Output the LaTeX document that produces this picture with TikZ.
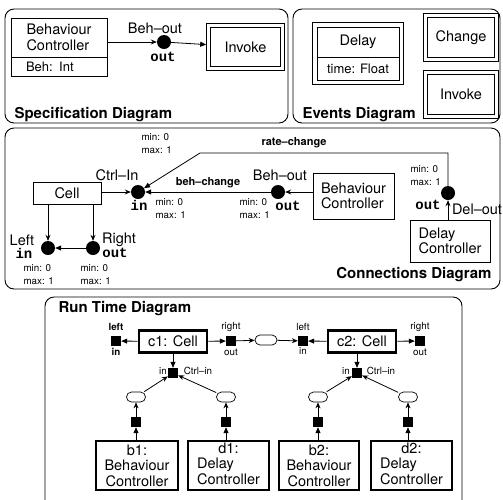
\documentclass[tikz,border=0pt]{standalone}
\usepackage{fontspec}
\setmainfont{TeX Gyre Heros}
\setmonofont{Liberation Mono}
\usetikzlibrary{arrows.meta,fit}
\newcommand\lbl{\fontsize{14.5}{15.5}\selectfont}
\newcommand\attr{\fontsize{13}{15}\selectfont}
\newcommand\sml{\fontsize{9.8}{13}\selectfont}
\newcommand\bsml{\fontsize{11}{13}\selectfont\bfseries}
\newcommand\ttl{\fontsize{15}{17}\selectfont\bfseries}
\newcommand\pin[1]{{\fontsize{14}{15}\selectfont\ttfamily\bfseries #1}}

\begin{document}
\begin{tikzpicture}[x=1pt,y=-1pt,
	panel/.style={draw,rounded corners=9pt,line width=0.9pt},
	box/.style={draw,line width=0.8pt,inner sep=0pt,font=\lbl},
	dbox/.style={draw,double,double distance=3pt,line width=0.8pt,inner sep=0pt,outer sep=2.3pt,font=\lbl},
	rbox/.style={draw,line width=2.6pt,inner sep=0pt,outer sep=1.3pt,font=\lbl},
	dot/.style={circle,fill,inner sep=0pt,minimum size=14pt},
	port/.style={fill,inner sep=0pt,minimum size=10pt},
	wire/.style={draw,rounded corners=5pt,inner sep=0pt,minimum width=19pt,minimum height=10pt,line width=0.7pt},
	fa/.style={-{Triangle[length=6pt,width=5pt]},line width=0.8pt},
	oa/.style={-{Stealth[length=6pt,width=5pt,inset=2pt]},line width=0.8pt}]

	\useasboundingbox (0,0) rectangle (503,499);
	\clip (0,0) rectangle (503,499);

	\draw[panel] (5,9) rectangle (288,123);
	\draw[panel] (293,9) rectangle (500,123);
	\draw[panel] (5,128) rectangle (500,289);
	\draw[panel] (45,297) rectangle (462,520);

	% specification
	\node[box,minimum width=96pt,minimum height=39pt,align=left] (sbeh) at (59,37.5) {Behaviour\\Controller};
	\node[box,font=\attr,text width=66pt,inner xsep=15pt,minimum height=19pt,align=left] (sbehattr) at (59,66.5) {Beh: Int};
	\node[dot] (sout) at (164,42) {};
	\node[dbox,minimum width=74pt,minimum height=43pt] (sinv) at (245.5,47) {Invoke};
	\node[font=\lbl] (soutname) at (155,28) {Beh--out};
	\node (soutpin) at (163,57) {\pin{out}};
	\node[anchor=base west,font=\ttl] (stitle) at (11,118) {Specification Diagram};
	\draw[oa] (sbeh.east |- sout) -- (sout);
	\draw[fa] (sout) -- (sinv);

	% events
	\node[box,minimum width=82pt,minimum height=30pt] (edly) at (358,42) {Delay};
	\node[box,font=\attr,minimum width=82pt,minimum height=23pt] (edlyattr) at (358,68.5) {time: Float};
	\node[draw,line width=0.8pt,inner sep=4pt,fit=(edly)(edlyattr)] (edlyframe) {};
	\node[dbox,minimum width=71pt,minimum height=44pt] (echg) at (461,37.5) {Change};
	\node[dbox,minimum width=71pt,minimum height=44pt] (einv) at (461,94.5) {Invoke};
	\node[anchor=base west,font=\ttl] (etitle) at (299,118) {Events Diagram};

	% connections
	\node[box,minimum width=68pt,minimum height=22pt] (cell) at (67,193) {Cell};
	\node[dot] (ctrlin) at (138,192) {};
	\node[dot] (behout) at (278,192) {};
	\node[box,minimum width=81pt,minimum height=46pt,align=left] (cbeh) at (353.5,196) {Behaviour\\Controller};
	\node[dot] (delout) at (448,193) {};
	\node[box,minimum width=80pt,minimum height=42pt,align=left] (cdel) at (450,241) {Delay\\Controller};
	\node[dot] (left) at (48,248) {};
	\node[dot] (right) at (93,248) {};
	\coordinate (rc) at (200,153);

	\node[font=\lbl] (ctrlinname) at (117,175) {Ctrl--In};
	\node (ctrlinpin) at (139,205) {\pin{in}};
	\node[font=\sml,align=left,anchor=west] (ctrlinmm) at (152,209) {min: 0\\max: 1};
	\node[font=\sml,align=left,anchor=west] (ratemm) at (138,143.5) {min: 0\\max: 1};
	\node[font=\lbl] (behoutname) at (280,175) {Beh--out};
	\node (behoutpin) at (288,206) {\pin{out}};
	\node[font=\sml,align=left,anchor=west] (behoutmm) at (236,209) {min: 0\\max: 1};
	\node[font=\sml,align=left,anchor=west] (deloutmm) at (407,176) {min: 0\\max: 1};
	\node (deloutpin) at (428,205) {\pin{out}};
	\node[font=\lbl] (deloutname) at (477,209) {Del--out};
	\node[font=\lbl] (leftname) at (22,240) {Left};
	\node (leftpin) at (24,253) {\pin{in}};
	\node[font=\lbl] (rightname) at (119,240) {Right};
	\node (rightpin) at (115,253) {\pin{out}};
	\node[font=\sml,align=left,anchor=west] (leftmm) at (20,275) {min: 0\\max: 1};
	\node[font=\sml,align=left,anchor=west] (rightmm) at (77,275) {min: 0\\max: 1};
	\node[font=\bsml] (ratechg) at (294,143) {rate--change};
	\node[anchor=base east,font=\ttl] (ctitle) at (495,278) {Connections Diagram};

	\draw[oa] (cell.east |- ctrlin) -- (ctrlin);
	\draw[fa] (behout) -- node[above,font=\bsml] (behchg) {beh--change} (ctrlin);
	\draw[oa] (cbeh.west |- behout) -- (behout);
	\draw[oa] (delout |- cdel.north) -- (delout);
	\draw[fa] (delout) |- (rc) -- (ctrlin);
	\draw[oa] (left |- cell.south) -- (left);
	\draw[oa] (right |- cell.south) -- (right);
	\draw[fa] (right) -- (left);

	% run time
	\node[anchor=base west,font=\ttl] (rtitle) at (55,312) {Run Time Diagram};
	\node[rbox,minimum width=68pt,minimum height=22pt] (c1) at (173,341.5) {c1: Cell};
	\node[rbox,minimum width=68pt,minimum height=22pt] (c2) at (362,341.5) {c2: Cell};
	\node[port] (c1l) at (116,341) {};
	\node[port] (c1r) at (231,341) {};
	\node[port] (c2l) at (303,341) {};
	\node[port] (c2r) at (420,341) {};
	\node[wire,minimum width=22pt] (mid) at (266,340) {};
	\node[port] (c1c) at (173,373) {};
	\node[port] (c2c) at (357,373) {};
	\node[font=\sml\bfseries] (c1lname) at (116,327) {left};
	\node[font=\sml\bfseries] (c1lpin) at (116,352) {in};
	\node[font=\sml] (c1rname) at (231,327) {right};
	\node[font=\sml] (c1rpin) at (231,352) {out};
	\node[font=\sml] (c2lname) at (303,327) {left};
	\node[font=\sml] (c2lpin) at (303,351) {in};
	\node[font=\sml] (c2rname) at (420,327) {right};
	\node[font=\sml] (c2rpin) at (420,352) {out};
	\node[font=\sml] (c1cpin) at (163,371) {in};
	\node[font=\sml] (c1cname) at (198,371) {Ctrl--in};
	\node[font=\sml] (c2cpin) at (346,371) {in};
	\node[font=\sml] (c2cname) at (381,371) {Ctrl--in};

	\node[wire] (b1w) at (136,397) {};
	\node[wire] (d1w) at (226,397) {};
	\node[wire] (b2w) at (318,397) {};
	\node[wire] (d2w) at (408,397) {};
	\node[port] (b1p) at (136,422) {};
	\node[port] (d1p) at (226,422) {};
	\node[port] (b2p) at (318,422) {};
	\node[port] (d2p) at (408,422) {};
	\node[rbox,minimum width=82pt,minimum height=49pt,align=center] (b1) at (137,465.5) {b1:\\Behaviour\\Controller};
	\node[rbox,minimum width=81pt,minimum height=49pt] (d1) at (228.5,465.5) {\begin{tabular}{@{}l@{}}\multicolumn{1}{@{}c@{}}{d1:}\\Delay\\Controller\end{tabular}};
	\node[rbox,minimum width=80pt,minimum height=49pt,align=center] (b2) at (319,465.5) {b2:\\Behaviour\\Controller};
	\node[rbox,minimum width=81pt,minimum height=49pt] (d2) at (411.5,465.5) {\begin{tabular}{@{}l@{}}\multicolumn{1}{@{}c@{}}{d2:}\\Delay\\Controller\end{tabular}};

	\draw[fa] (c1) -- (c1l);
	\draw[fa] (c1) -- (c1r);
	\draw[oa] (c1r) -- (mid);
	\draw[oa] (mid) -- (c2l);
	\draw[fa] (c2) -- (c2l);
	\draw[fa] (c2) -- (c2r);
	\draw[fa] (c1c |- c1.south) -- (c1c);
	\draw[fa] (c2c |- c2.south) -- (c2c);
	\draw[oa] (b1w) -- (c1c);
	\draw[oa] (d1w) -- (c1c);
	\draw[oa] (b2w) -- (c2c);
	\draw[oa] (d2w) -- (c2c);
	\draw[oa] (b1p) -- (b1w);
	\draw[oa] (d1p) -- (d1w);
	\draw[oa] (b2p) -- (b2w);
	\draw[oa] (d2p) -- (d2w);
	\draw[fa] (b1p |- b1.north) -- (b1p);
	\draw[fa] (d1p |- d1.north) -- (d1p);
	\draw[fa] (b2p |- b2.north) -- (b2p);
	\draw[fa] (d2p |- d2.north) -- (d2p);
\end{tikzpicture}
\end{document}
